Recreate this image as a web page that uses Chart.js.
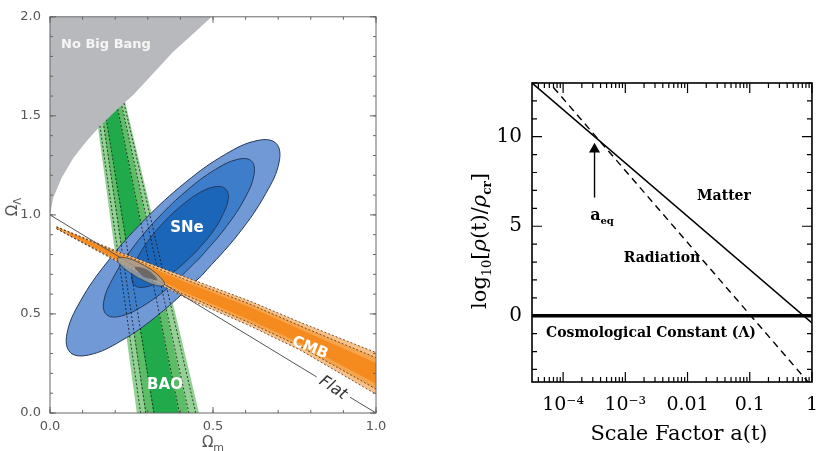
<!DOCTYPE html>
<html>
<head>
<meta charset="utf-8">
<script src="https://cdn.jsdelivr.net/npm/chart.js@4.4.1/dist/chart.umd.min.js"></script>
<style>
  html, body { margin: 0; padding: 0; background: #fff; }
  #wrap { position: relative; width: 830px; height: 451px; overflow: hidden; }
  #left { position: absolute; left: 0; top: 0; width: 400px; height: 451px; }
  #right { position: absolute; left: 440px; top: 0; width: 390px; height: 451px; }
</style>
</head>
<body>
<div id="wrap">
  <canvas id="left" width="400" height="451"></canvas>
  <canvas id="right" width="390" height="451"></canvas>
</div>
<script>
// ---------- left panel data : [Omega_m, Omega_Lambda] ----------
const omTicks = [0, 0.5, 1.0];
const omTickLabels = ['0.0', '0.5', '1.0'];
const olTicks = [0, 0.5, 1.0, 1.5, 2.0];
const olTickLabels = ['0.0', '0.5', '1.0', '1.5', '2.0'];

const noBigBang = [[0, 2.0], [0, 1.0], [0.010, 1.087], [0.036, 1.187], [0.072, 1.288], [0.112, 1.372],
  [0.153, 1.447], [0.205, 1.531], [0.256, 1.607], [0.317, 1.715], [0.378, 1.824], [0.440, 1.916], [0.496, 2.0]];

const baoOuter = [[0.268, -0.02], [0.134, 1.6], [0.226, 1.6], [0.460, -0.02]];
const baoMid = [[0.294, -0.02], [0.151, 1.6], [0.213, 1.6], [0.426, -0.02]];
const baoInner = [[0.319, -0.02], [0.161, 1.6], [0.199, 1.6], [0.397, -0.02]];
const baoDashes = [
  [[0.278, 0], [0.153, 1.45]],
  [[0.294, 0], [0.164, 1.46]],
  [[0.319, 0], [0.173, 1.48]],
  [[0.397, 0], [0.208, 1.535]],
  [[0.426, 0], [0.220, 1.555]],
  [[0.447, 0], [0.227, 1.565]]
];

const snOuter = [[0.465, 0.693], [0.337, 0.502], [0.216, 0.362], [0.119, 0.293], [0.062, 0.306], [0.052, 0.400],
  [0.092, 0.561], [0.176, 0.763], [0.290, 0.975], [0.417, 1.166], [0.538, 1.306], [0.635, 1.375],
  [0.693, 1.362], [0.703, 1.268], [0.662, 1.108], [0.579, 0.906]];
const snMid = [[0.461, 0.785], [0.370, 0.643], [0.284, 0.539], [0.215, 0.488], [0.173, 0.497], [0.165, 0.564],
  [0.193, 0.680], [0.251, 0.828], [0.331, 0.984], [0.421, 1.125], [0.507, 1.229], [0.577, 1.281],
  [0.618, 1.272], [0.626, 1.205], [0.599, 1.088], [0.541, 0.941]];
const snInner = [[0.448, 0.814], [0.390, 0.726], [0.335, 0.663], [0.288, 0.635], [0.259, 0.645], [0.251, 0.693],
  [0.265, 0.771], [0.300, 0.866], [0.350, 0.965], [0.407, 1.052], [0.463, 1.116], [0.510, 1.143],
  [0.538, 1.132], [0.547, 1.085], [0.532, 1.008], [0.498, 0.912]];

const cmbOuterUp = [[0.02, 0.94], [0.205, 0.818], [0.409, 0.69], [0.613, 0.565], [0.767, 0.458], [1.0, 0.305]];
const cmbOuterLow = [[0.02, 0.93], [0.205, 0.765], [0.409, 0.587], [0.613, 0.44], [0.767, 0.318], [1.0, 0.095]];
const cmbMidUp = [[0.02, 0.939], [0.205, 0.811], [0.409, 0.677], [0.613, 0.55], [0.767, 0.44], [1.0, 0.279]];
const cmbMidLow = [[0.02, 0.931], [0.205, 0.772], [0.409, 0.6], [0.613, 0.455], [0.767, 0.336], [1.0, 0.121]];
const cmbInnerUp = [[0.06, 0.909], [0.205, 0.805], [0.409, 0.665], [0.613, 0.535], [0.767, 0.423], [1.0, 0.253]];
const cmbInnerLow = [[0.06, 0.901], [0.205, 0.778], [0.409, 0.612], [0.613, 0.47], [0.767, 0.353], [1.0, 0.148]];

const combined = [[0.269, 0.683], [0.221, 0.739], [0.207, 0.780], [0.236, 0.782], [0.290, 0.744],
  [0.337, 0.688], [0.351, 0.647], [0.323, 0.645]];
const combinedCore = [[0.288, 0.686], [0.260, 0.736], [0.301, 0.721], [0.329, 0.671]];

const flatA = [[0, 1], [0.818, 0.182]];
const flatB = [[0.92, 0.08], [1, 0]];

// ---------- right panel data ----------
const scaleTicks = [1e-4, 1e-3, 0.01, 0.1, 1];
const scaleTickLabels = ['10⁻⁴', '10⁻³', '0.01', '0.1', '1'];
const rhoTicks = [0, 5, 10];
const rhoTickLabels = ['0', '5', '10'];
const matterA = [3.162e-5, 1];
const matterRho = [13.0, -0.4];
const radiationA = [7e-5, 1];
const radiationRho = [12.75, -3.95];
const lambdaA = [3.162e-5, 1];
const lambdaRho = [0, 0];
const arrowA = [3.2e-4, 3.2e-4];
const arrowRho = [6.6, 9.3];

// helpers
const toXY = pairs => pairs.map(p => ({ x: p[0], y: p[1] }));
const zipXY = (xs, ys) => xs.map((x, i) => ({ x: x, y: ys[i] }));

function shape(points, fillColor, lineColor, lineWidth, tension) {
  return {
    data: toXY(points.concat([points[0]])),
    showLine: true,
    fill: 'shape',
    backgroundColor: fillColor,
    borderColor: lineColor || 'rgba(0,0,0,0)',
    borderWidth: lineWidth || 0,
    tension: tension || 0,
    pointRadius: 0
  };
}
function band(up, low, fillColor) {
  return shape(up.concat(low.slice().reverse()), fillColor);
}
function dashLine(points, color, width, dash) {
  return {
    data: toXY(points),
    showLine: true,
    fill: false,
    borderColor: color,
    borderWidth: width,
    borderDash: dash || [],
    pointRadius: 0
  };
}

// draw text made of pieces (for sub/superscripts), centred on x
function drawRich(ctx, parts, x, y, rot, color) {
  ctx.save();
  ctx.translate(x, y);
  ctx.rotate(rot || 0);
  ctx.fillStyle = color;
  ctx.textBaseline = 'alphabetic';
  let w = 0;
  parts.forEach(p => { ctx.font = p[1]; w += ctx.measureText(p[0]).width; });
  let cx = -w / 2;
  parts.forEach(p => {
    ctx.font = p[1];
    ctx.fillText(p[0], cx, p[2] || 0);
    cx += ctx.measureText(p[0]).width;
  });
  ctx.restore();
}

// box and inward ticks on all four sides
function drawFrame(chart, cfg) {
  const ctx = chart.ctx;
  const a = chart.chartArea;
  const xs = chart.scales.x, ys = chart.scales.y;
  ctx.save();
  ctx.strokeStyle = cfg.color;
  ctx.lineWidth = cfg.tickWidth;
  ctx.beginPath();
  function xt(v, len) {
    const px = xs.getPixelForValue(v);
    ctx.moveTo(px, a.bottom); ctx.lineTo(px, a.bottom - len);
    ctx.moveTo(px, a.top); ctx.lineTo(px, a.top + len);
  }
  function yt(v, len) {
    const py = ys.getPixelForValue(v);
    ctx.moveTo(a.left, py); ctx.lineTo(a.left + len, py);
    ctx.moveTo(a.right, py); ctx.lineTo(a.right - len, py);
  }
  cfg.xMinor.forEach(v => xt(v, cfg.minorLen));
  cfg.xMajor.forEach(v => xt(v, cfg.majorLen));
  cfg.yMinor.forEach(v => yt(v, cfg.minorLen));
  cfg.yMajor.forEach(v => yt(v, cfg.majorLen));
  ctx.stroke();
  ctx.lineWidth = cfg.frameWidth;
  ctx.strokeRect(a.left, a.top, a.right - a.left, a.bottom - a.top);
  ctx.restore();
}

// ---------- left chart ----------
const layers = [
  shape(baoOuter, '#92d193'),
  shape(baoMid, '#5dbd66'),
  shape(baoInner, '#21aa4c'),
  shape(noBigBang, '#b8b9bc'),
  shape(snOuter, '#7099d5', '#25395c', 1, 0.4),
  shape(snMid, '#3d7dca', '#25395c', 1, 0.4),
  shape(snInner, '#1c66b9', '#25395c', 1, 0.4)
];
baoDashes.forEach(l => layers.push(dashLine(l, 'rgba(20,20,20,0.8)', 1, [2, 2])));
layers.push(band(cmbOuterUp, cmbOuterLow, '#f8c189'));
layers.push(band(cmbMidUp, cmbMidLow, '#f6a54c'));
layers.push(band(cmbInnerUp, cmbInnerLow, '#f58b1f'));
[cmbOuterUp, cmbOuterLow, cmbMidUp, cmbMidLow].forEach(l =>
  layers.push(dashLine(l, 'rgba(60,30,0,0.7)', 1, [2, 2])));
layers.push(dashLine(flatA, '#555', 1));
layers.push(dashLine(flatB, '#555', 1));
layers.push(shape(combined, 'rgba(160,160,160,0.8)', 'rgba(40,40,40,0.8)', 0.8, 0.4));
layers.push(shape(combinedCore, 'rgba(95,95,95,0.85)', null, 0, 0.4));
// first in list is drawn at the bottom
layers.forEach((d, i) => { d.order = layers.length - i; });

const leftMinorX = [], leftMinorY = [];
for (let i = 0; i <= 10; i++) leftMinorX.push(i / 10);
for (let i = 0; i <= 20; i++) leftMinorY.push(i / 10);

const leftDecor = {
  id: 'leftDecor',
  afterDraw(chart) {
    const ctx = chart.ctx;
    drawFrame(chart, {
      color: '#666', tickWidth: 1, frameWidth: 1, minorLen: 3, majorLen: 6,
      xMinor: leftMinorX, xMajor: omTicks, yMinor: leftMinorY, yMajor: olTicks
    });
    ctx.save();
    ctx.fillStyle = '#f6f6f6';
    ctx.textAlign = 'center';
    ctx.font = 'bold 13px "DejaVu Sans"';
    ctx.fillText('No Big Bang', 106, 48);
    ctx.fillStyle = '#ffffff';
    ctx.font = 'bold 15px "DejaVu Sans"';
    ctx.fillText('SNe', 187, 232);
    ctx.fillText('BAO', 165, 389);
    ctx.textBaseline = 'middle';
    ctx.translate(310, 348);
    ctx.rotate(22 * Math.PI / 180);
    ctx.fillText('CMB', 0, 0);
    ctx.restore();
    ctx.save();
    ctx.fillStyle = '#333';
    ctx.textAlign = 'center';
    ctx.textBaseline = 'middle';
    ctx.font = 'oblique 16px "DejaVu Sans"';
    ctx.translate(333, 388);
    ctx.rotate(34 * Math.PI / 180);
    ctx.fillText('Flat', 0, 0);
    ctx.restore();
    // axis titles
    drawRich(ctx, [['Ω', '15px "DejaVu Sans"'], ['Λ', '10px "DejaVu Sans"', 4]], 17, 207, -Math.PI / 2, '#555');
    drawRich(ctx, [['Ω', '15px "DejaVu Sans"'], ['m', '11px "DejaVu Sans"', 4]], 213, 447, 0, '#555');
  }
};

new Chart(document.getElementById('left'), {
  type: 'scatter',
  data: { datasets: layers },
  options: {
    responsive: false,
    animation: false,
    layout: { autoPadding: false, padding: { left: 0, right: 24, top: 15, bottom: 0 } },
    plugins: { legend: { display: false }, tooltip: { enabled: false } },
    scales: {
      x: {
        type: 'linear', min: 0, max: 1,
        grid: { display: false, drawTicks: false }, border: { display: false },
        afterBuildTicks: s => { s.ticks = omTicks.map(v => ({ value: v })); },
        afterFit: s => { s.height = 38; },
        ticks: { padding: 6, maxRotation: 0, color: '#555', font: { family: 'DejaVu Sans', size: 13 },
          callback: (v, i) => omTickLabels[i] }
      },
      y: {
        type: 'linear', min: 0, max: 2,
        grid: { display: false, drawTicks: false }, border: { display: false },
        afterBuildTicks: s => { s.ticks = olTicks.map(v => ({ value: v })); },
        afterFit: s => { s.width = 50; },
        ticks: { padding: 9, color: '#555', font: { family: 'DejaVu Sans', size: 13 },
          callback: (v, i) => olTickLabels[i] }
      }
    }
  },
  plugins: [leftDecor]
});

// ---------- right chart ----------
const rightMinorX = [];
for (let e = -5; e <= 0; e++) {
  for (let k = 2; k <= 9; k++) rightMinorX.push(k * Math.pow(10, e));
}
const rightMinorY = [];
for (let v = -3; v <= 13; v++) rightMinorY.push(v);

const rightDecor = {
  id: 'rightDecor',
  afterDraw(chart) {
    const ctx = chart.ctx;
    drawFrame(chart, {
      color: '#000', tickWidth: 1.2, frameWidth: 1.6, minorLen: 5, majorLen: 10,
      xMinor: rightMinorX.filter(v => v > 3.2e-5 && v < 1), xMajor: scaleTicks,
      yMinor: rightMinorY, yMajor: rhoTicks
    });
    const serif = '"DejaVu Serif"';
    drawRich(ctx, [['Scale Factor a(t)', '21px ' + serif]], 239, 440, 0, '#000');
    drawRich(ctx, [
      ['log', '21px ' + serif], ['10', '13px ' + serif, 5], ['[', '21px ' + serif],
      ['ρ', 'italic 21px ' + serif], ['(t)/', '21px ' + serif], ['ρ', 'italic 21px ' + serif],
      ['cr', 'bold 12px ' + serif, 5], [']', '21px ' + serif]
    ], 46, 241, -Math.PI / 2, '#000');
    const lab = 'bold 14px ' + serif;
    drawRich(ctx, [['Matter', lab]], 284, 200, 0, '#000');
    drawRich(ctx, [['Radiation', lab]], 222, 262, 0, '#000');
    drawRich(ctx, [['Cosmological Constant (Λ)', lab]], 211, 337, 0, '#000');
    drawRich(ctx, [['a', 'bold 16px ' + serif], ['eq', 'bold 10px ' + serif, 4]], 162, 220, 0, '#000');
  }
};

new Chart(document.getElementById('right'), {
  type: 'scatter',
  data: {
    datasets: [
      { data: zipXY(matterA, matterRho), showLine: true, borderColor: '#000', borderWidth: 1.6, pointRadius: 0 },
      { data: zipXY(radiationA, radiationRho), showLine: true, borderColor: '#000', borderWidth: 1.4,
        borderDash: [7, 5], pointRadius: 0 },
      { data: zipXY(lambdaA, lambdaRho), showLine: true, borderColor: '#000', borderWidth: 3.5, pointRadius: 0 },
      { data: zipXY(arrowA, arrowRho), showLine: true, borderColor: '#000', borderWidth: 1.4,
        pointRadius: [0, 5], pointStyle: 'triangle', pointBackgroundColor: '#000', pointBorderColor: '#000' }
    ]
  },
  options: {
    responsive: false,
    animation: false,
    layout: { autoPadding: false, padding: { left: 0, right: 2, top: 83, bottom: 0 } },
    plugins: { legend: { display: false }, tooltip: { enabled: false } },
    scales: {
      x: {
        type: 'logarithmic', min: 3.162e-5, max: 1,
        grid: { display: false, drawTicks: false }, border: { display: false },
        afterBuildTicks: s => { s.ticks = scaleTicks.map(v => ({ value: v })); },
        afterFit: s => { s.height = 69; },
        ticks: { padding: 12, maxRotation: 0, autoSkip: false, color: '#000',
          font: { family: 'DejaVu Serif', size: 19 }, callback: (v, i) => scaleTickLabels[i] }
      },
      y: {
        type: 'linear', min: -3.7, max: 13.0,
        grid: { display: false, drawTicks: false }, border: { display: false },
        afterBuildTicks: s => { s.ticks = rhoTicks.map(v => ({ value: v })); },
        afterFit: s => { s.width = 92; },
        ticks: { padding: 10, color: '#000', font: { family: 'DejaVu Serif', size: 20 },
          callback: (v, i) => rhoTickLabels[i] }
      }
    }
  },
  plugins: [rightDecor]
});
</script>
</body>
</html>
